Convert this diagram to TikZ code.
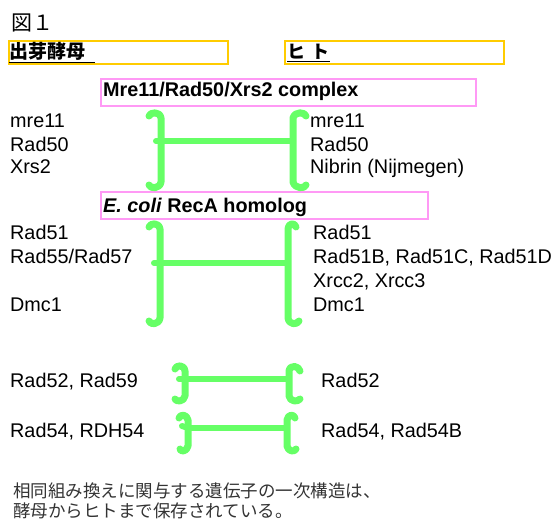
\documentclass[tikz,border=0pt]{standalone}
\usepackage{fontspec}
\setmainfont{Liberation Sans}
\newfontfamily\jpfont{Noto Sans CJK JP}
\definecolor{grn}{HTML}{66FF66}
\definecolor{ylw}{HTML}{FFCC00}
\definecolor{pnk}{HTML}{FF99F5}
\definecolor{note}{HTML}{333333}
\begin{document}
\begin{tikzpicture}[x=1pt,y=-1pt,
  lbl/.style={anchor=base west,inner sep=0pt,font=\fontsize{19.8}{23}\selectfont},
  hdr/.style={anchor=base west,inner sep=0pt,font=\fontsize{19.8}{23}\selectfont\bfseries},
  ybox/.style={draw=ylw,line width=2pt,anchor=north west,minimum width=219pt,minimum height=23pt,inner sep=0pt},
  pbox/.style={draw=pnk,line width=2pt,anchor=north west,minimum height=27pt,inner sep=0pt},
  brk/.style={draw=grn,line width=7pt,line cap=round,line join=round},
  link/.style={draw=grn,line width=6pt},
  nub/.style={draw=grn,line width=6pt,line cap=round}]
\useasboundingbox (0,0) rectangle (555,519);
% title
\node[anchor=base west,inner sep=0pt,font=\jpfont\fontsize{21}{24}\selectfont] (title) at (11,31) {図１};
% organism header boxes
\node[ybox] (yeastbox) at (8,40) {};
\node[ybox] (humanbox) at (284,40) {};
\node[anchor=base west,inner sep=0pt,font=\jpfont\fontsize{19}{22}\selectfont\bfseries] (yeast) at (9,59) {\underline{出芽酵母\hspace*{10pt}}};
\node[anchor=base west,inner sep=0pt,font=\jpfont\fontsize{18}{22}\selectfont\bfseries] (human) at (287,59) {\underline{ヒ\hspace{6pt}ト\hspace*{1pt}}};
% group headers
\node[pbox,minimum width=375pt] (mrnbox) at (100,78) {};
\node[hdr] (mrn) at (103,97) {Mre11/Rad50/Xrs2 complex};
\node[pbox,minimum width=327pt] (recabox) at (100,191) {};
\node[hdr] (reca) at (103,212) {\textit{E. coli} RecA homolog};
% group 1 labels
\node[lbl] (y11) at (10,128) {mre11};
\node[lbl] (y12) at (10,151) {Rad50};
\node[lbl] (y13) at (10,174) {Xrs2};
\node[lbl] (h11) at (310,128) {mre11};
\node[lbl] (h12) at (310,151) {Rad50};
\node[lbl] (h13) at (310,174) {Nibrin (Nijmegen)};
% group 2 labels
\node[lbl] (y21) at (10,239) {Rad51};
\node[lbl] (y22) at (10,263) {Rad55/Rad57};
\node[lbl] (y23) at (10,311) {Dmc1};
\node[lbl] (h21) at (313,239) {Rad51};
\node[lbl] (h22) at (313,263) {Rad51B, Rad51C, Rad51D};
\node[lbl] (h23) at (313,287) {Xrcc2, Xrcc3};
\node[lbl] (h24) at (313,311) {Dmc1};
% group 3, 4 labels
\node[lbl] (y31) at (10,387) {Rad52, Rad59};
\node[lbl] (h31) at (321,387) {Rad52};
\node[lbl] (y41) at (10,437) {Rad54, RDH54};
\node[lbl] (h41) at (321,437) {Rad54, Rad54B};
% ---- bracket group 1
\coordinate (L1t) at (161,118); \coordinate (L1m) at (161,141); \coordinate (L1b) at (161,182);
\coordinate (R1t) at (293,118); \coordinate (R1m) at (293,141); \coordinate (R1b) at (293,182);
\draw[brk] (149,116) .. controls (150,112) and (160,111) .. (L1t) -- (L1b) .. controls (160,189) and (150,189) .. (149,185);
\draw[brk] (306,116) .. controls (305,112) and (295,111) .. (R1t) -- (R1b) .. controls (295,189) and (305,189) .. (306,185);
\draw[nub] (156,141) -- (L1m);
\draw[link] (L1m) -- (R1m);
% ---- bracket group 2
\coordinate (L2t) at (160,229); \coordinate (L2m) at (160,263); \coordinate (L2b) at (160,318);
\coordinate (R2t) at (288,229); \coordinate (R2m) at (288,263); \coordinate (R2b) at (288,318);
\draw[brk] (149,227) .. controls (150,223) and (159,222) .. (L2t) -- (L2b) .. controls (159,325) and (150,325) .. (149,321);
\draw[brk] (296,227) .. controls (295,223) and (289,222) .. (R2t) -- (R2b) .. controls (289,325) and (297,325) .. (299,321);
\draw[nub] (154,263) -- (L2m);
\draw[link] (L2m) -- (R2m);
% ---- bracket group 3
\coordinate (L3t) at (185,371); \coordinate (L3m) at (185,379); \coordinate (L3b) at (185,396);
\coordinate (R3t) at (289,371); \coordinate (R3m) at (289,379); \coordinate (R3b) at (289,396);
\draw[brk] (175,369) .. controls (176,365) and (184,364) .. (L3t) -- (L3b) .. controls (184,402) and (176,402) .. (175,399);
\draw[brk] (300,371) .. controls (299,366) and (290,364) .. (R3t) -- (R3b) .. controls (290,402) and (298,402) .. (300,399);
\draw[nub] (179,379) -- (L3m);
\draw[link] (L3m) -- (R3m);
% ---- bracket group 4
\coordinate (L4t) at (188,420); \coordinate (L4m) at (188,428); \coordinate (L4b) at (188,446);
\coordinate (R4t) at (287,420); \coordinate (R4m) at (287,428); \coordinate (R4b) at (287,446);
\draw[brk] (179,418) .. controls (180,414) and (187,414) .. (L4t) -- (L4b) .. controls (187,452) and (180,452) .. (180,449);
\draw[brk] (295,418) .. controls (294,414) and (288,414) .. (R4t) -- (R4b) .. controls (288,452) and (295,452) .. (296,449);
\draw[nub] (182,426) -- (L4m);
\draw[link] (L4m) -- (R4m);
% footnote
\node[anchor=base west,inner sep=0pt,text=note,font=\jpfont\fontsize{17.5}{20}\selectfont] (note1) at (13,497) {相同組み換えに関与する遺伝子の一次構造は、};
\node[anchor=base west,inner sep=0pt,text=note,font=\jpfont\fontsize{17.5}{20}\selectfont] (note2) at (13,517) {酵母からヒトまで保存されている。};
\end{tikzpicture}
\end{document}
